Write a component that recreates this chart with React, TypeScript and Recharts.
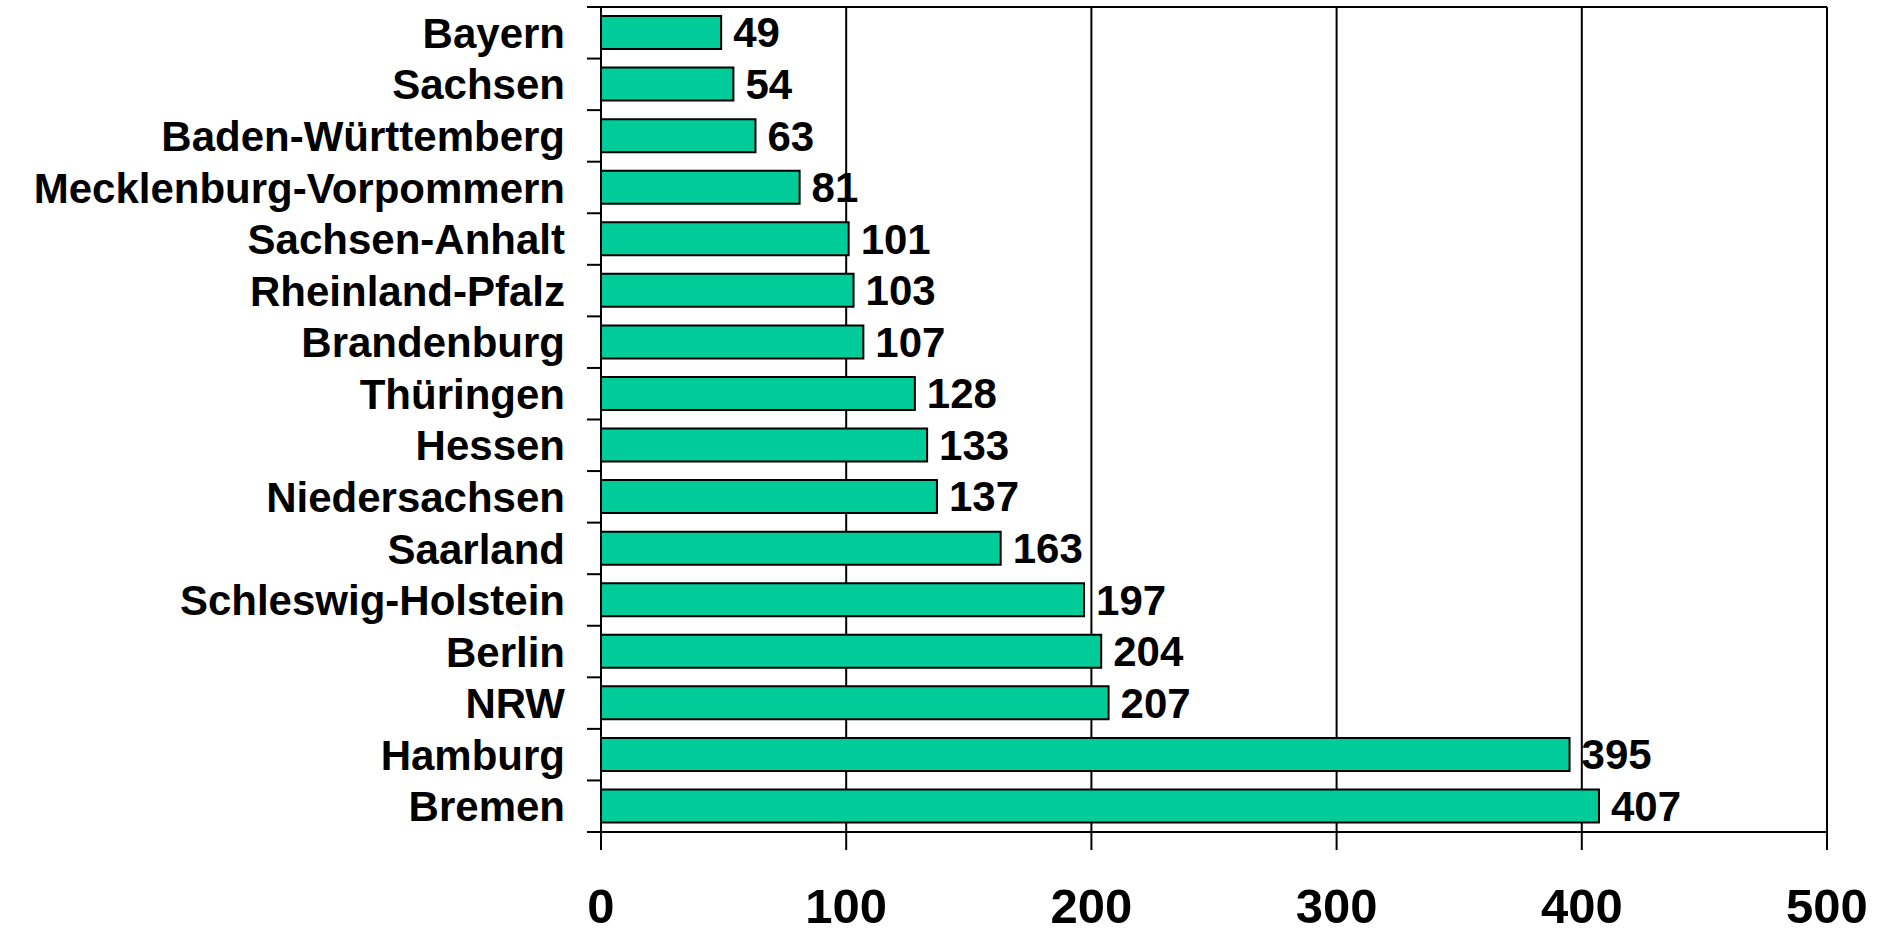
import { BarChart, Bar, XAxis, YAxis, CartesianGrid, LabelList } from "recharts";

const states = [
  "Bayern",
  "Sachsen",
  "Baden-Württemberg",
  "Mecklenburg-Vorpommern",
  "Sachsen-Anhalt",
  "Rheinland-Pfalz",
  "Brandenburg",
  "Thüringen",
  "Hessen",
  "Niedersachsen",
  "Saarland",
  "Schleswig-Holstein",
  "Berlin",
  "NRW",
  "Hamburg",
  "Bremen",
];
const values = [49, 54, 63, 81, 101, 103, 107, 128, 133, 137, 163, 197, 204, 207, 395, 407];
const xTicks = [0, 100, 200, 300, 400, 500];

const data = states.map((name, i) => ({ name, value: values[i] }));

const W = 1892;
const H = 934;
const TOP = 7;
const AXIS_W = 601;
const X_H = 102;
const BAND = (H - TOP - X_H) / states.length;
const FONT = "'Liberation Sans', Arial, sans-serif";

function StateTick(props: any) {
  const { x, y, payload, index } = props;
  const last = index === states.length - 1;
  return (
    <g>
      <line x1={AXIS_W - 14} x2={AXIS_W} y1={y - BAND / 2} y2={y - BAND / 2} stroke="#000" strokeWidth={2} />
      {last && (
        <line x1={AXIS_W - 14} x2={AXIS_W} y1={y + BAND / 2} y2={y + BAND / 2} stroke="#000" strokeWidth={2} />
      )}
      <text
        x={x}
        y={y}
        dy="0.36em"
        textAnchor="end"
        fontFamily={FONT}
        fontWeight="bold"
        fontSize={42}
        fill="#000"
      >
        {payload.value}
      </text>
    </g>
  );
}

export default function App() {
  return (
    <div style={{ position: "fixed", left: 0, top: 0, background: "#fff" }}>
      <BarChart
        width={W}
        height={H}
        data={data}
        layout="vertical"
        margin={{ top: TOP, right: 65, bottom: 0, left: 0 }}
        barCategoryGap={0}
      >
        <CartesianGrid
          stroke="#000"
          strokeWidth={2}
          horizontalCoordinatesGenerator={({ offset }: any) => [offset.top]}
        />
        <XAxis
          type="number"
          domain={[0, 500]}
          ticks={xTicks}
          height={X_H}
          axisLine={{ stroke: "#000", strokeWidth: 2 }}
          tickLine={{ stroke: "#000", strokeWidth: 2 }}
          tickSize={18}
          tickMargin={38}
          tick={{ fontFamily: FONT, fontWeight: "bold", fontSize: 49, fill: "#000" }}
        />
        <YAxis
          type="category"
          dataKey="name"
          width={AXIS_W}
          axisLine={{ stroke: "#000", strokeWidth: 2 }}
          tickLine={false}
          tickSize={0}
          tickMargin={36}
          interval={0}
          tick={<StateTick />}
        />
        <Bar
          dataKey="value"
          fill="#00CC99"
          stroke="#000"
          strokeWidth={2}
          barSize={33}
          isAnimationActive={false}
        >
          <LabelList
            dataKey="value"
            position="right"
            offset={12}
            fontFamily={FONT}
            fontWeight="bold"
            fontSize={42}
            fill="#000"
          />
        </Bar>
      </BarChart>
    </div>
  );
}
